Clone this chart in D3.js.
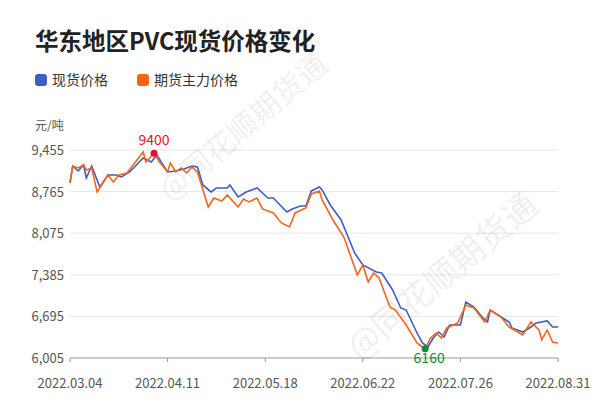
<!DOCTYPE html>
<html><head><meta charset="utf-8">
<script src="https://cdn.jsdelivr.net/npm/d3@7"></script>
<style>body{margin:0;background:#fff}</style>
</head><body>
<svg id="c" width="600" height="408"></svg>
<script>
// day offsets from 2022.03.04
const spotDays = [0,1,3,5,6,8,11,14,17,19,22,27,30,32,36,39,42,45,47,49,52,54,58,59,62,65,69,73,75,80,82,85,87,89,92,93,96,100,105,108,113,115,119,122,124,128,130,132,134,136,138,140,144,146,149,152,154,155,159,162,163,167,170,172,176,178,180];
const spotVals = [8908,9190,9107,9207,8991,9190,8842,9041,9041,9008,9091,9323,9257,9373,9091,9107,9141,9190,9174,8875,8759,8825,8825,8875,8676,8759,8825,8659,8659,8427,8477,8527,8527,8776,8842,8792,8543,8294,7747,7548,7432,7415,7133,6835,6801,6420,6254,6188,6337,6436,6353,6552,6552,6934,6851,6685,6602,6801,6685,6602,6503,6436,6519,6586,6619,6519,6519];
const futDays = [0,1,3,5,6,8,10,14,16,18,21,27,28,31,33,36,37,39,41,43,45,47,51,53,56,58,62,64,66,69,71,75,78,81,83,87,89,92,93,97,101,106,108,110,112,114,118,120,124,128,130,131,133,135,137,139,143,146,149,153,155,159,162,167,170,173,174,176,178,180];
const futVals = [8908,9190,9157,9207,9124,9157,8759,9041,8925,9041,9074,9423,9257,9400,9257,9091,9240,9091,9157,9074,9174,9091,8510,8659,8610,8709,8510,8643,8593,8659,8477,8411,8245,8178,8411,8494,8726,8776,8626,8294,8012,7382,7548,7266,7415,7332,6851,6801,6552,6254,6188,6160,6337,6420,6337,6503,6586,6884,6835,6602,6801,6685,6519,6387,6602,6470,6304,6470,6270,6254];
const yTicks = [6005,6695,7385,8075,8765,9455];
const xTickDays = [0,36,72,108,144,180];
const xTickLabels = ["2022.03.04","2022.04.11","2022.05.18","2022.06.22","2022.07.26","2022.08.31"];
const series = [
  {name:"现货价格", color:"#3d5fc4", days:spotDays, vals:spotVals},
  {name:"期货主力价格", color:"#f2661c", days:futDays, vals:futVals}
];
const maxPt = {day:31, val:9400}, minPt = {day:131, val:6160};

const svg = d3.select("#c");
const font = "'Noto Sans CJK SC','Noto Sans',sans-serif";
const x = d3.scaleLinear().domain([0,180]).range([70,558]);
const y = d3.scaleLinear().domain([6005,9455]).range([358,150]);

svg.append("text").attr("x",35).attr("y",50).text("华东地区PVC现货价格变化")
  .style("font-family",font).style("font-weight","bold").style("font-size","23.5px").style("fill","#222");

series.forEach((s,i) => {
  const lx = i ? 137 : 35;
  svg.append("rect").attr("x",lx).attr("y",74).attr("width",12).attr("height",12).attr("rx",3).style("fill",s.color);
  svg.append("text").attr("x",lx+17).attr("y",85).text(s.name)
    .style("font-family",font).style("font-size","14px").style("fill","#333");
});

svg.append("text").attr("x",35).attr("y",130).text("元/吨")
  .style("font-family",font).style("font-size","12px").style("fill","#555");

yTicks.forEach(t => {
  if (t !== 6005) svg.append("line").attr("x1",70).attr("x2",558).attr("y1",y(t)).attr("y2",y(t)).style("stroke","#e6e6e6");
  svg.append("text").attr("x",64).attr("y",y(t)+5).attr("text-anchor","end").text(d3.format(",")(t))
    .style("font-family",font).style("font-size","13px").style("fill","#555");
});
svg.append("line").attr("x1",70).attr("x2",558).attr("y1",358).attr("y2",358).style("stroke","#999");
xTickDays.forEach((d,i) => {
  svg.append("line").attr("x1",x(d)).attr("x2",x(d)).attr("y1",358).attr("y2",362).style("stroke","#999");
  svg.append("text").attr("x",x(d)).attr("y",388).attr("text-anchor","middle").text(xTickLabels[i])
    .style("font-family",font).style("font-size","13px").style("fill","#555");
});

// watermark
[[250,135],[450,285]].forEach(([wx,wy],i) => {
  svg.append("text").attr("transform",`translate(${wx},${wy}) rotate(-40)`).attr("text-anchor","middle")
    .text("@同花顺期货通")
    .style("font-family",font).style("font-size", i ? "34px" : "30px").style("fill","rgba(0,0,0,0.08)");
});

const line = d3.line().x(d => x(d[0])).y(d => y(d[1]));
series.forEach(s => {
  svg.append("path").datum(d3.zip(s.days, s.vals)).attr("d",line)
    .style("fill","none").style("stroke",s.color).style("stroke-width",1.6);
});

svg.append("circle").attr("cx",x(maxPt.day)).attr("cy",y(maxPt.val)).attr("r",3.5).style("fill","#e8112d");
svg.append("text").attr("x",x(maxPt.day)).attr("y",y(maxPt.val)-8).attr("text-anchor","middle").text(maxPt.val)
  .style("font-family",font).style("font-size","14px").style("fill","#e8112d");
svg.append("circle").attr("cx",x(minPt.day)).attr("cy",y(minPt.val)).attr("r",3.5).style("fill","#118a3a");
svg.append("text").attr("x",x(minPt.day)+4).attr("y",y(minPt.val)+14).attr("text-anchor","middle").text(minPt.val)
  .style("font-family",font).style("font-size","14px").style("fill","#118a3a");
</script>
</body></html>
